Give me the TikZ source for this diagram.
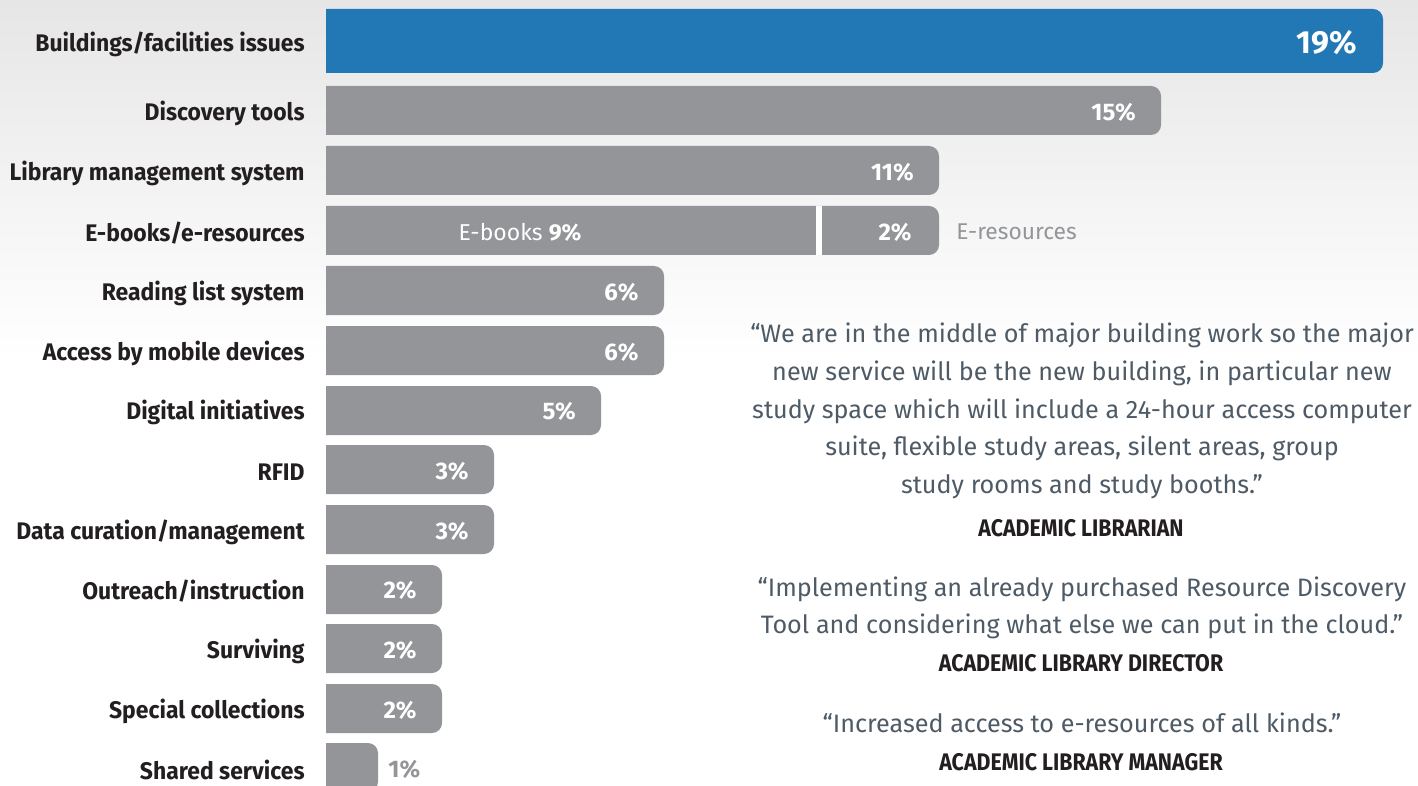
\documentclass[tikz,border=0pt]{standalone}
\usepackage{fontspec}
\setmainfont{Fira Sans}
\newfontfamily\labfont[FakeStretch=0.955]{Fira Sans}
\newfontfamily\sigfont[FakeStretch=0.89]{Fira Sans}
\definecolor{barg}{HTML}{939598}
\definecolor{barb}{HTML}{2277B5}
\definecolor{labc}{HTML}{231F20}
\definecolor{quotec}{HTML}{4E5B66}
\definecolor{bgtop}{HTML}{E6E6E6}
\tikzset{
  lab/.style={anchor=east, text=labc, font=\labfont\fontsize{12}{14}\selectfont\bfseries, inner sep=0pt},
  pct/.style={anchor=east, text=white, font=\fontsize{12}{14}\selectfont\bfseries, inner sep=0pt},
  outpct/.style={anchor=west, text=barg, font=\fontsize{12}{14}\selectfont\bfseries, inner sep=0pt},
  quote/.style={align=center, text=quotec, font=\fontsize{12.6}{18.85}\selectfont, inner sep=0pt},
  sig/.style={text=labc, font=\sigfont\fontsize{12}{14}\selectfont\bfseries, inner sep=0pt},
}
\newcommand{\chartbar}[4]{% color, top, bottom, right end
  \fill[#1] (326,#2) [rounded corners=5pt] -- (#4,#2) -- (#4,#3) [sharp corners] -- (326,#3) -- cycle;}
\begin{document}
\begin{tikzpicture}[x=0.5pt,y=-0.5pt]
\useasboundingbox (0,0) rectangle (1418,786);
\shade[top color=bgtop, bottom color=white] (0,0) rectangle (1418,360);
\fill[white] (0,360) rectangle (1418,786);
% bars
\chartbar{barb}{9}{73}{1383}
\chartbar{barg}{86}{135}{1161}
\chartbar{barg}{146}{195}{939}
\fill[barg] (326,206) rectangle (816,255);
\chartbar{barg}{206}{255}{939}
\fill[white] (816,206) rectangle (822,255);
\chartbar{barg}{266}{315}{664}
\chartbar{barg}{326}{375}{664}
\chartbar{barg}{386}{435}{601}
\chartbar{barg}{445}{494}{494}
\chartbar{barg}{505}{554}{494}
\chartbar{barg}{565}{614}{442}
\chartbar{barg}{624}{673}{442}
\chartbar{barg}{684}{733}{442}
\begin{scope}
\clip (0,0) rectangle (1418,786);
\chartbar{barg}{743}{792}{378}
\end{scope}
% labels
\node[lab] (l1) at (305,44) {Buildings/facilities issues};
\node[lab] (l2) at (305,113) {Discovery tools};
\node[lab] (l3) at (305,173) {Library management system};
\node[lab] (l4) at (305,233) {E-books/e-resources};
\node[lab] (l5) at (305,293) {Reading list system};
\node[lab] (l6) at (305,353) {Access by mobile devices};
\node[lab] (l7) at (305,412) {Digital initiatives};
\node[lab] (l8) at (305,472) {RFID};
\node[lab] (l9) at (305,532) {Data curation/management};
\node[lab] (l10) at (305,591) {Outreach/instruction};
\node[lab] (l11) at (305,651) {Surviving};
\node[lab] (l12) at (305,711) {Special collections};
\node[lab] (l13) at (305,770) {Shared services};
% percentages
\node[pct, font=\fontsize{16}{18}\selectfont\bfseries] (p1) at (1357,43) {19\%};
\node[pct] (p2) at (1136,112) {15\%};
\node[pct] (p3) at (914,172) {11\%};
\node[anchor=center, text=white, font=\fontsize{11.5}{14}\selectfont, inner sep=0pt] (p4a) at (520,232) {E-books \textbf{9\%}};
\node[pct] (p4b) at (912,232) {2\%};
\node[anchor=west, text=barg, font=\fontsize{11.4}{14}\selectfont, inner sep=0pt] (p4c) at (956,232) {E-resources};
\node[pct] (p5) at (639,292) {6\%};
\node[pct] (p6) at (639,352) {6\%};
\node[pct] (p7) at (576,411) {5\%};
\node[pct] (p8) at (469,471) {3\%};
\node[pct] (p9) at (469,531) {3\%};
\node[pct] (p10) at (417,590) {2\%};
\node[pct] (p11) at (417,650) {2\%};
\node[pct] (p12) at (417,710) {2\%};
\node[outpct] (p13) at (388,769) {1\%};
% quotes
\node[quote] (q1) at (1082,411) {“We are in the middle of major building work so the major\\
new service will be the new building, in particular new\\
study space which will include a 24-hour access computer\\
suite, flexible study areas, silent areas, group\\
study rooms and study booths.”};
\node[sig] (s1) at (1081,528) {ACADEMIC LIBRARIAN};
\node[quote] (q2) at (1082,608) {“Implementing an already purchased Resource Discovery\\
Tool and considering what else we can put in the cloud.”};
\node[sig] (s2) at (1081,663) {ACADEMIC LIBRARY DIRECTOR};
\node[quote] (q3) at (1082,723) {“Increased access to e-resources of all kinds.”};
\node[sig] (s3) at (1081,762) {ACADEMIC LIBRARY MANAGER};
\end{tikzpicture}
\end{document}
